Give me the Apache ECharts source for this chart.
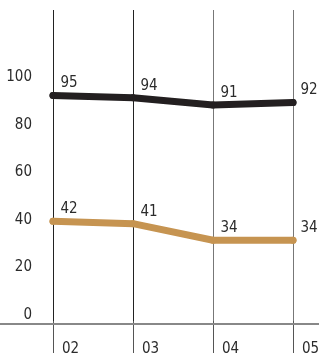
<!DOCTYPE html>
<html>
<head>
<meta charset="utf-8">
<script src="https://cdn.jsdelivr.net/npm/echarts@6/dist/echarts.min.js"></script>
<style>
  html, body { margin: 0; padding: 0; background: #fff; overflow: hidden; }
  #chart { width: 319px; height: 358px; }
</style>
</head>
<body>
<div id="chart"></div>
<script>
const categories = ['02', '03', '04', '05']
const blackValues = [95, 94, 91, 92]
const tanValues = [42, 41, 34, 34]
const yTicks = [0, 20, 40, 60, 80, 100]

const font = "'Liberation Sans Narrow', 'DejaVu Sans Condensed', sans-serif"
const textColor = '#2b2b2b'

const chart = echarts.init(document.getElementById('chart'))

const labelStyle = {
  show: true,
  position: 'top',
  distance: 1,
  offset: [16, 0],
  color: textColor,
  fontFamily: font,
  fontSize: 15,
}

chart.setOption({
  animation: false,
  grid: { top: 10, left: 53, right: 26, bottom: 37, outerBoundsMode: 'none', containLabel: false },
  xAxis: {
    type: 'category',
    data: categories,
    boundaryGap: false,
    axisLine: { show: false },
    axisTick: { show: true, length: 32, lineStyle: { color: '#555', width: 1 } },
    axisLabel: {
      color: textColor,
      fontFamily: font,
      fontSize: 15,
      margin: 21,
      align: 'left',
      padding: [0, 0, 0, 9],
    },
    splitLine: {
      show: true,
      lineStyle: { color: ['#222', '#222', '#777', '#777'], width: 1 },
    },
  },
  yAxis: {
    type: 'value',
    min: 0,
    max: 131,
    interval: 20,
    axisLine: { show: false },
    axisTick: { show: false },
    splitLine: { show: false },
    axisLabel: {
      showMaxLabel: false,
      color: textColor,
      fontFamily: font,
      fontSize: 15,
      margin: 21,
      verticalAlign: 'bottom',
      lineHeight: 12,
      formatter: v => (yTicks.includes(v) ? String(v) : ''),
    },
  },
  graphic: [
    {
      type: 'line',
      shape: { x1: 0, y1: 324, x2: 319, y2: 324 },
      style: { stroke: '#888', lineWidth: 2 },
      z: 5,
    },
  ],
  series: [
    {
      type: 'line',
      data: blackValues,
      symbol: 'circle',
      symbolSize: 7,
      itemStyle: { color: '#231f20' },
      lineStyle: { color: '#231f20', width: 7, cap: 'round', join: 'round' },
      label: labelStyle,
      z: 3,
    },
    {
      type: 'line',
      data: tanValues,
      symbol: 'circle',
      symbolSize: 7,
      itemStyle: { color: '#c69451' },
      lineStyle: { color: '#c69451', width: 7, cap: 'round', join: 'round' },
      label: labelStyle,
      z: 3,
    },
  ],
})
</script>
</body>
</html>
